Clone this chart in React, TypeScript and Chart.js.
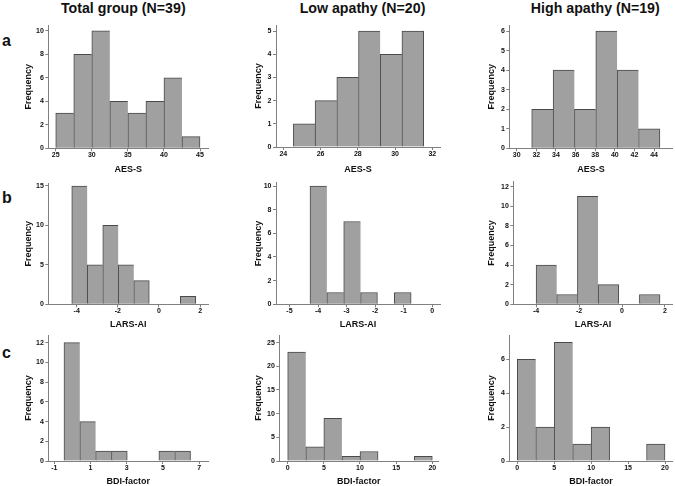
import React, { useEffect, useRef } from "react";
import { Chart, registerables } from "chart.js";

Chart.register(...registerables);

// ---------- text ----------
const groupTitles = ["Total group (N=39)", "Low apathy (N=20)", "High apathy (N=19)"];
const rowLetters = ["a", "b", "c"];
const xAxisTitles = ["AES-S", "LARS-AI", "BDI-factor"];
const yAxisTitle = "Frequency";

// ---------- row a: AES-S ----------
const aesTotalEdges = [25, 27.5, 30, 32.5, 35, 37.5, 40, 42.5, 45];
const aesTotalCounts = [3, 8, 10, 4, 3, 4, 6, 1];
const aesTotalXTicks = [25, 30, 35, 40, 45];
const aesTotalYTicks = [0, 2, 4, 6, 8, 10];
const aesTotalXRange = [23.97, 46.15];
const aesTotalYMax = 10.5;

const aesLowEdges = [24.54, 25.71, 26.87, 28.04, 29.2, 30.37, 31.53];
const aesLowCounts = [1, 2, 3, 5, 4, 5];
const aesLowXTicks = [24, 26, 28, 30, 32];
const aesLowYTicks = [0, 1, 2, 3, 4, 5];
const aesLowXRange = [23.61, 32.41];
const aesLowYMax = 5.26;

const aesHighEdges = [31.53, 33.71, 35.89, 38.06, 40.24, 42.42, 44.6];
const aesHighCounts = [2, 4, 2, 6, 4, 1];
const aesHighXTicks = [30, 32, 34, 36, 38, 40, 42, 44];
const aesHighYTicks = [0, 1, 2, 3, 4, 5, 6];
const aesHighXRange = [29.25, 45.9];
const aesHighYMax = 6.31;

// ---------- row b: LARS-AI ----------
const larsTotalEdges = [-4.24, -3.486, -2.732, -1.978, -1.224, -0.47, 0.284, 1.038, 1.792];
const larsTotalCounts = [15, 5, 10, 5, 3, 0, 0, 1];
const larsTotalXTicks = [-4, -2, 0, 2];
const larsTotalYTicks = [0, 5, 10, 15];
const larsTotalXRange = [-5.38, 2.4];
const larsTotalYMax = 15.38;

const larsLowEdges = [-4.28, -3.69, -3.1, -2.51, -1.92, -1.33, -0.74];
const larsLowCounts = [10, 1, 7, 1, 0, 1];
const larsLowXTicks = [-5, -4, -3, -2, -1, 0];
const larsLowYTicks = [0, 2, 4, 6, 8, 10];
const larsLowXRange = [-5.47, 0.27];
const larsLowYMax = 10.28;

const larsHighEdges = [-4.0, -3.04, -2.08, -1.11, -0.15, 0.81, 1.77];
const larsHighCounts = [4, 1, 11, 2, 0, 1];
const larsHighXTicks = [-4, -2, 0, 2];
const larsHighYTicks = [0, 2, 4, 6, 8, 10, 12];
const larsHighXRange = [-5.06, 2.36];
const larsHighYMax = 12.5;

// ---------- row c: BDI-factor ----------
const bdiTotalEdges = [-0.465, 0.408, 1.281, 2.154, 3.027, 3.9, 4.773, 5.646, 6.519];
const bdiTotalCounts = [12, 4, 1, 1, 0, 0, 1, 1];
const bdiTotalXTicks = [-1, 1, 3, 5, 7];
const bdiTotalYTicks = [0, 2, 4, 6, 8, 10, 12];
const bdiTotalXRange = [-1.33, 7.5];
const bdiTotalYMax = 12.78;

const bdiLowEdges = [0, 2.5, 5, 7.5, 10, 12.5, 15, 17.5, 20];
const bdiLowCounts = [23, 3, 9, 1, 2, 0, 0, 1];
const bdiLowXTicks = [0, 5, 10, 15, 20];
const bdiLowYTicks = [0, 5, 10, 15, 20, 25];
const bdiLowXRange = [-1.16, 20.83];
const bdiLowYMax = 26.6;

const bdiHighEdges = [0, 2.5, 5, 7.5, 10, 12.5, 15, 17.5, 20];
const bdiHighCounts = [6, 2, 7, 1, 2, 0, 0, 1];
const bdiHighXTicks = [0, 5, 10, 15, 20];
const bdiHighYTicks = [0, 2, 4, 6];
const bdiHighXRange = [-1.08, 21.04];
const bdiHighYMax = 7.43;

type Panel = {
  edges: number[];
  counts: number[];
  xTicks: number[];
  yTicks: number[];
  xRange: number[];
  yMax: number;
  xTitle: string;
};

const panels: Panel[] = [
  { edges: aesTotalEdges, counts: aesTotalCounts, xTicks: aesTotalXTicks, yTicks: aesTotalYTicks, xRange: aesTotalXRange, yMax: aesTotalYMax, xTitle: xAxisTitles[0] },
  { edges: aesLowEdges, counts: aesLowCounts, xTicks: aesLowXTicks, yTicks: aesLowYTicks, xRange: aesLowXRange, yMax: aesLowYMax, xTitle: xAxisTitles[0] },
  { edges: aesHighEdges, counts: aesHighCounts, xTicks: aesHighXTicks, yTicks: aesHighYTicks, xRange: aesHighXRange, yMax: aesHighYMax, xTitle: xAxisTitles[0] },
  { edges: larsTotalEdges, counts: larsTotalCounts, xTicks: larsTotalXTicks, yTicks: larsTotalYTicks, xRange: larsTotalXRange, yMax: larsTotalYMax, xTitle: xAxisTitles[1] },
  { edges: larsLowEdges, counts: larsLowCounts, xTicks: larsLowXTicks, yTicks: larsLowYTicks, xRange: larsLowXRange, yMax: larsLowYMax, xTitle: xAxisTitles[1] },
  { edges: larsHighEdges, counts: larsHighCounts, xTicks: larsHighXTicks, yTicks: larsHighYTicks, xRange: larsHighXRange, yMax: larsHighYMax, xTitle: xAxisTitles[1] },
  { edges: bdiTotalEdges, counts: bdiTotalCounts, xTicks: bdiTotalXTicks, yTicks: bdiTotalYTicks, xRange: bdiTotalXRange, yMax: bdiTotalYMax, xTitle: xAxisTitles[2] },
  { edges: bdiLowEdges, counts: bdiLowCounts, xTicks: bdiLowXTicks, yTicks: bdiLowYTicks, xRange: bdiLowXRange, yMax: bdiLowYMax, xTitle: xAxisTitles[2] },
  { edges: bdiHighEdges, counts: bdiHighCounts, xTicks: bdiHighXTicks, yTicks: bdiHighYTicks, xRange: bdiHighXRange, yMax: bdiHighYMax, xTitle: xAxisTitles[2] },
];

// ---------- layout (page pixels) ----------
const FONT = '"Liberation Sans", Arial, Helvetica, sans-serif';
const AXIS_TITLE_SIZE = 9;
const TH = AXIS_TITLE_SIZE / 2; // half of title line height (lineHeight 1)

const colCanvasLeft = [20, 250, 483];
const colCanvasRight = [218, 450, 675];
const colFreqX = [28.3, 258.3, 491.7];
const rowCanvasTop = [12, 170, 325];
const rowCanvasBottom = [176, 331, 486];
const rowXTitleY = [170, 325, 481.3];

type Geo = { axisX: number; right: number; top: number; axisY: number };
const geos: Geo[] = [
  { axisX: 48.3, right: 208.3, top: 25, axisY: 148.3 },
  { axisX: 276, right: 440, top: 25, axisY: 147 },
  { axisX: 509.3, right: 672.7, top: 25, axisY: 148.3 },
  { axisX: 48.3, right: 208.3, top: 183, axisY: 304.3 },
  { axisX: 276, right: 440, top: 182.7, axisY: 304.3 },
  { axisX: 513.3, right: 672.7, top: 181.7, axisY: 304.3 },
  { axisX: 48.3, right: 208.3, top: 335, axisY: 461 },
  { axisX: 279.3, right: 438.3, top: 335, axisY: 461 },
  { axisX: 509.3, right: 672.7, top: 335, axisY: 461 },
];

const BAR_FILL = "#a0a0a0";
const BAR_EDGE = "#4a4a4a";
const AXIS_COLOR = "#808080";
const TEXT_COLOR = "#111111";

function buildConfig(p: Panel, g: Geo, row: number, col: number): any {
  const cl = colCanvasLeft[col];
  const cr = colCanvasRight[col];
  const ct = rowCanvasTop[row];
  const cb = rowCanvasBottom[row];
  const padLeft = colFreqX[col] - TH - cl;
  const yW = g.axisX - cl - padLeft;
  const padTop = g.top - ct;
  const padRight = cr - g.right;
  const xH = rowXTitleY[row] + TH - g.axisY;
  const padBottom = Math.max(0, cb - g.axisY - xH);

  const data = p.counts.map((c, i) => ({ x: (p.edges[i] + p.edges[i + 1]) / 2, y: c }));
  const n = p.counts.length;

  const tickFont = { family: FONT, size: 7, weight: "bold" as const };
  const titleFont = { family: FONT, size: AXIS_TITLE_SIZE, weight: "bold" as const, lineHeight: 1 };

  return {
    type: "bar",
    data: {
      datasets: [
        {
          data,
          xAxisID: "xb",
          yAxisID: "y",
          backgroundColor: BAR_FILL,
          borderColor: BAR_EDGE,
          borderWidth: (ctx: any) => {
            const i = ctx.dataIndex;
            const nextZero = i === n - 1 || p.counts[i + 1] === 0;
            return { top: 1, left: 1, bottom: 0, right: nextZero ? 1 : 0 };
          },
          borderSkipped: false,
          barPercentage: 1,
          categoryPercentage: 1,
        },
      ],
    },
    options: {
      responsive: false,
      animation: false,
      events: [],
      layout: { padding: { left: padLeft, top: padTop, right: padRight, bottom: padBottom } },
      plugins: { legend: { display: false }, tooltip: { enabled: false }, title: { display: false } },
      scales: {
        xb: {
          type: "linear",
          axis: "x",
          position: "bottom",
          display: false,
          min: p.xRange[0],
          max: p.xRange[1],
          offset: false,
          grid: { offset: false, display: false },
          ticks: { display: false, autoSkip: false },
          afterBuildTicks: (s: any) => {
            s.ticks = [];
          },
        },
        x: {
          type: "linear",
          axis: "x",
          position: "bottom",
          min: p.xRange[0],
          max: p.xRange[1],
          offset: false,
          afterBuildTicks: (s: any) => {
            s.ticks = p.xTicks.map((v) => ({ value: v }));
          },
          afterFit: (s: any) => {
            s.height = xH;
          },
          grid: {
            offset: false,
            drawOnChartArea: false,
            drawTicks: true,
            tickLength: 3,
            color: AXIS_COLOR,
            lineWidth: 1,
          },
          border: { display: true, color: AXIS_COLOR, width: 1 },
          ticks: {
            autoSkip: false,
            maxRotation: 0,
            minRotation: 0,
            padding: 0,
            color: TEXT_COLOR,
            font: tickFont,
            callback: (v: any) => String(v),
          },
          title: {
            display: true,
            text: p.xTitle,
            color: TEXT_COLOR,
            font: titleFont,
            padding: 0,
          },
        },
        y: {
          type: "linear",
          position: "left",
          min: 0,
          max: p.yMax,
          afterBuildTicks: (s: any) => {
            s.ticks = p.yTicks.map((v) => ({ value: v }));
          },
          afterFit: (s: any) => {
            s.width = yW;
          },
          grid: {
            drawOnChartArea: false,
            drawTicks: true,
            tickLength: 3,
            color: AXIS_COLOR,
            lineWidth: 1,
          },
          border: { display: true, color: AXIS_COLOR, width: 1 },
          ticks: {
            autoSkip: false,
            padding: 1.5,
            color: TEXT_COLOR,
            font: tickFont,
            callback: (v: any) => String(v),
          },
          title: {
            display: true,
            text: yAxisTitle,
            color: TEXT_COLOR,
            font: titleFont,
            padding: 0,
          },
        },
      },
    },
  };
}

const groupTitleCenters = [123.3, 362.5, 595.3];
const letterTops = [32.5, 189.8, 344.8];

export default function App() {
  const refs = useRef<(HTMLCanvasElement | null)[]>([]);

  useEffect(() => {
    const charts: Chart[] = [];
    panels.forEach((p, i) => {
      const row = Math.floor(i / 3);
      const col = i % 3;
      const cv = refs.current[i];
      if (!cv) return;
      charts.push(new Chart(cv, buildConfig(p, geos[i], row, col)));
    });
    return () => charts.forEach((c) => c.destroy());
  }, []);

  return (
    <div
      style={{
        position: "absolute",
        left: 0,
        top: 0,
        width: 675,
        height: 486,
        background: "#ffffff",
        overflow: "hidden",
        fontFamily: FONT,
        color: TEXT_COLOR,
      }}
    >
      {groupTitles.map((t, i) => (
        <div
          key={t}
          style={{
            position: "absolute",
            left: groupTitleCenters[i] - 110,
            width: 220,
            top: 1,
            textAlign: "center",
            fontSize: 14.2,
            fontWeight: "bold",
            lineHeight: "14px",
            whiteSpace: "nowrap",
          }}
        >
          {t}
        </div>
      ))}
      {rowLetters.map((l, i) => (
        <div
          key={l}
          style={{
            position: "absolute",
            left: 2,
            top: letterTops[i],
            fontSize: 16,
            fontWeight: "bold",
            lineHeight: "16px",
          }}
        >
          {l}
        </div>
      ))}
      {panels.map((_, i) => {
        const row = Math.floor(i / 3);
        const col = i % 3;
        const l = colCanvasLeft[col];
        const t = rowCanvasTop[row];
        const w = colCanvasRight[col] - l;
        const h = rowCanvasBottom[row] - t;
        return (
          <canvas
            key={i}
            ref={(el) => {
              refs.current[i] = el;
            }}
            width={w}
            height={h}
            style={{ position: "absolute", left: l, top: t, width: w, height: h }}
          />
        );
      })}
    </div>
  );
}
